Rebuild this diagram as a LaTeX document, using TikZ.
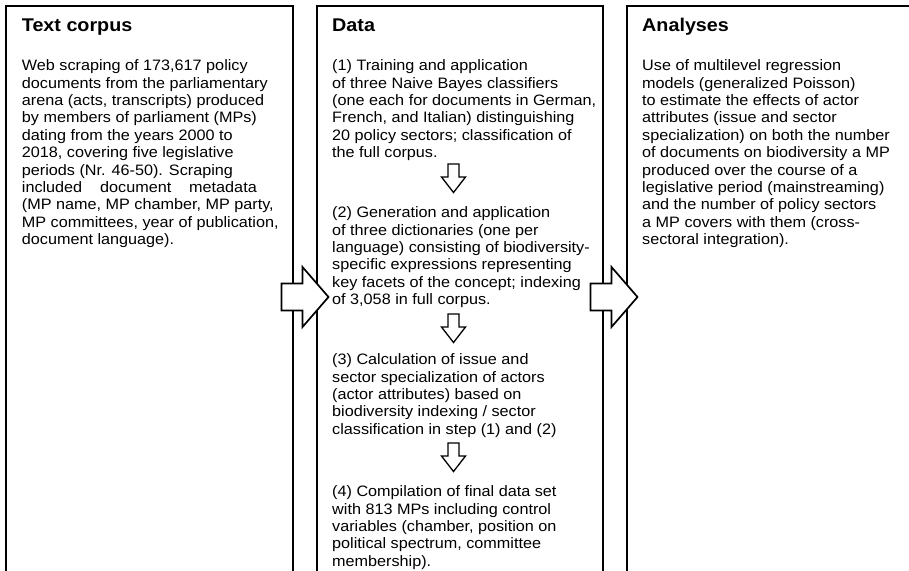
\documentclass[tikz,border=0pt]{standalone}
\usepackage{fontspec}
\setmainfont{Liberation Sans}
\begin{document}
\begin{tikzpicture}[x=1pt,y=-1pt,
  panel/.style={draw=black, line width=1.7pt, fill=none, inner sep=0pt, anchor=north west, minimum height=640pt},
  paneltitle/.style={anchor=base west, inner sep=0pt, xscale=1.073, font=\fontsize{18.4pt}{21pt}\selectfont\bfseries},
  bodytext/.style={anchor=north west, inner sep=0pt, align=left, xscale=1.073, font=\fontsize{15.1pt}{17.4pt}\selectfont},
  blockarrow/.style={draw=black, line width=1.7pt, fill=white, line join=miter},
  downarrow/.style={draw=black, line width=1.3pt, fill=white, line join=miter},
  harrow/.pic={\path[blockarrow] (0,-13.5) -- (21,-13.5) -- (21,-30) -- (47,0) -- (21,30) -- (21,13.5) -- (0,13.5) -- cycle;},
  varrow/.pic={\path[downarrow] (-5.5,0) -- (5.5,0) -- (5.5,13) -- (12,13) -- (0,28.5) -- (-12,13) -- (-5.5,13) -- cycle;}
]
\useasboundingbox (0,0) rectangle (909,570);
\begin{scope}
\clip (0,0) rectangle (909,570);
% panels
\node[panel, minimum width=287pt] (corpus) at (5,5) {};
\node[panel, minimum width=286pt] (data) at (316,5) {};
\node[panel, minimum width=340pt] (analyses) at (626,5) {};
% connector arrows between panels
\coordinate (ha1) at (281.5,297);
\coordinate (ha2) at (590.5,297);
\pic at (ha1) {harrow};
\pic at (ha2) {harrow};
\end{scope}
% titles
\node[paneltitle] (corpustitle) at (21.7,31.7) {Text corpus};
\node[paneltitle] (datatitle) at (332,31.7) {Data};
\node[paneltitle] (analysestitle) at (642,31.7) {Analyses};
% left panel text
\node[bodytext] (corpustext) at (21.7,57.5) {\rule{0pt}{13pt}Web scraping of 173,617 policy\\
documents from the parliamentary\\
arena (acts, transcripts) produced\\
by members of parliament (MPs)\\
dating from the years 2000 to\\
2018, covering five legislative\\
periods (Nr. 46-50). Scraping\\
included\hspace*{12.5pt} document\hspace*{12.5pt} metadata\\
(MP name, MP chamber, MP party,\\
MP committees, year of publication,\\
document language).};
% middle panel text
\node[bodytext] (step1) at (332,57.5) {\rule{0pt}{13pt}(1) Training and application\\
of three Naive Bayes classifiers\\
(one each for documents in German,\\
French, and Italian) distinguishing\\
20 policy sectors; classification of\\
the full corpus.};
\node[bodytext] (step2) at (332,204.5) {\rule{0pt}{13pt}(2) Generation and application\\
of three dictionaries (one per\\
language) consisting of biodiversity-\\
specific expressions representing\\
key facets of the concept; indexing\\
of 3,058 in full corpus.};
\node[bodytext] (step3) at (332,351.5) {\rule{0pt}{13pt}(3) Calculation of issue and\\
sector specialization of actors\\
(actor attributes) based on\\
biodiversity indexing / sector\\
classification in step (1) and (2)};
\node[bodytext] (step4) at (332,483.5) {\rule{0pt}{13pt}(4) Compilation of final data set\\
with 813 MPs including control\\
variables (chamber, position on\\
political spectrum, committee\\
membership).};
% down arrows between steps
\coordinate (va1) at (453.5,164);
\coordinate (va2) at (453.5,314);
\coordinate (va3) at (453.5,443);
\pic at (va1) {varrow};
\pic at (va2) {varrow};
\pic at (va3) {varrow};
% right panel text
\node[bodytext] (analysestext) at (642,57.5) {\rule{0pt}{13pt}Use of multilevel regression\\
models (generalized Poisson)\\
to estimate the effects of actor\\
attributes (issue and sector\\
specialization) on both the number\\
of documents on biodiversity a MP\\
produced over the course of a\\
legislative period (mainstreaming)\\
and the number of policy sectors\\
a MP covers with them (cross-\\
sectoral integration).};
\end{tikzpicture}
\end{document}
